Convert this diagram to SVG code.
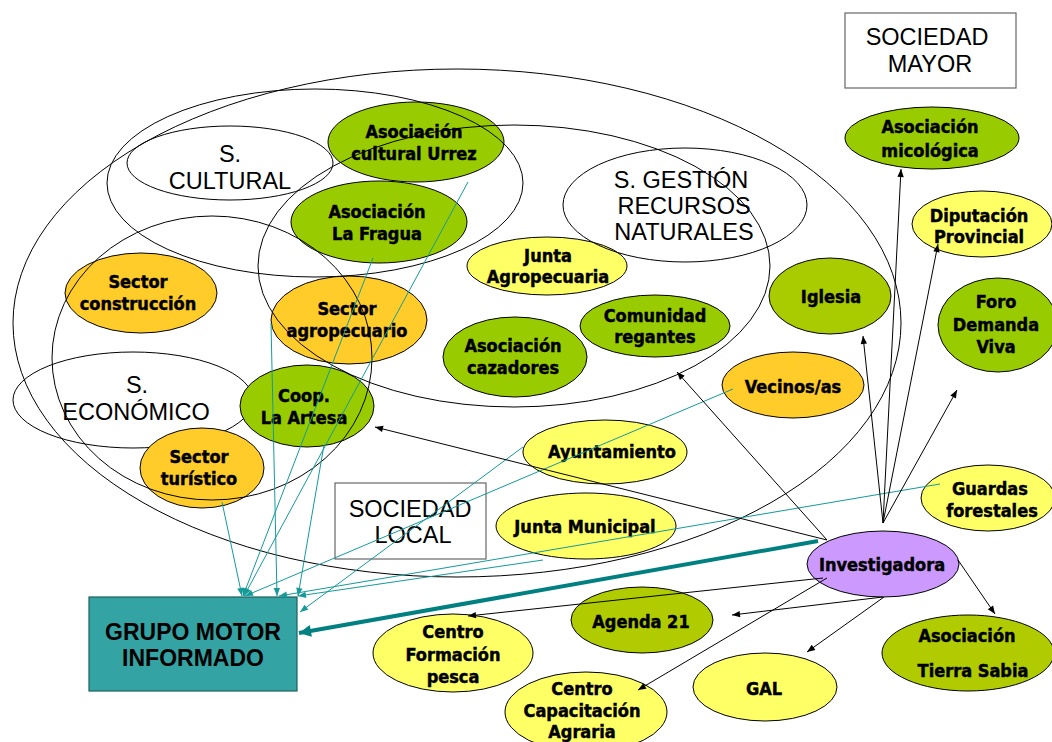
<svg xmlns="http://www.w3.org/2000/svg" width="1052" height="742" viewBox="0 0 1052 742">
<style>
.n{font-family:"DejaVu Sans Condensed","DejaVu Sans",sans-serif;font-stretch:condensed;font-weight:bold;font-size:18px;text-anchor:middle;fill:#000;stroke:#000;stroke-width:0.45}
.h{font-family:"Liberation Sans",Arial,sans-serif;font-size:23.5px;text-anchor:middle;fill:#000}
.gm{font-family:"Liberation Sans",Arial,sans-serif;font-size:23px;font-weight:bold;text-anchor:middle;fill:#000}
.dom{fill:none;stroke:#000;stroke-width:1}
.nd{stroke:#000;stroke-width:1}
.g1{fill:#99cc00}.g2{fill:#b0cc00}.or{fill:#ffcc29}.ye{fill:#ffff66}.pu{fill:#cc99ff}
.box{fill:#fff;stroke:#666;stroke-width:1.2}
.tl{stroke:#159a9a;stroke-width:1;fill:none;marker-end:url(#at)}
.bl{stroke:#000;stroke-width:1;fill:none;marker-end:url(#ab)}
</style>
<defs>
<marker id="ab" viewBox="0 0 10 10" refX="10" refY="5" markerWidth="10" markerHeight="8" markerUnits="userSpaceOnUse" orient="auto"><path d="M0,1 L10,5 L0,9 z" fill="#000"/></marker>
<marker id="at" viewBox="0 0 10 10" refX="10" refY="5" markerWidth="10" markerHeight="8" markerUnits="userSpaceOnUse" orient="auto"><path d="M0,1 L10,5 L0,9 z" fill="#159a9a"/></marker>
<marker id="atb" viewBox="0 0 10 10" refX="10" refY="5" markerWidth="16" markerHeight="12" markerUnits="userSpaceOnUse" orient="auto"><path d="M0,0 L10,5 L0,10 z" fill="#008080"/></marker>
</defs>
<rect width="1052" height="742" fill="#fff"/>

<g id="s-economico">
<ellipse class="dom" cx="133" cy="400" rx="120" ry="48"/>
<text class="h" x="137" y="393">S.</text>
<text class="h" x="136" y="420">ECONÓMICO</text>
</g>

<g id="asoc-urrez"><ellipse class="nd g1" cx="416" cy="142" rx="88" ry="40"/><text class="n" x="414" y="138">Asociación</text><text class="n" x="414" y="160">cultural Urrez</text></g>
<g id="asoc-fragua"><ellipse class="nd g1" cx="379" cy="222" rx="88" ry="41"/><text class="n" x="377" y="218">Asociación</text><text class="n" x="377" y="240">La Fragua</text></g>
<g id="sector-construccion"><ellipse class="nd or" cx="141" cy="293" rx="76" ry="40"/><text class="n" x="138" y="288">Sector</text><text class="n" x="138" y="310">construcción</text></g>
<g id="sector-agropecuario"><ellipse class="nd or" cx="349" cy="320" rx="78" ry="44"/><text class="n" x="347" y="315">Sector</text><text class="n" x="347" y="337">agropecuario</text></g>
<g id="junta-agropecuaria"><ellipse class="nd ye" cx="547" cy="266" rx="80" ry="29"/><text class="n" x="548" y="262">Junta</text><text class="n" x="548" y="283">Agropecuaria</text></g>
<g id="comunidad-regantes"><ellipse class="nd g1" cx="655" cy="326" rx="75" ry="31"/><text class="n" x="655" y="322">Comunidad</text><text class="n" x="655" y="343">regantes</text></g>
<g id="asoc-cazadores"><ellipse class="nd g1" cx="515" cy="357" rx="72" ry="40"/><text class="n" x="513" y="352">Asociación</text><text class="n" x="513" y="374">cazadores</text></g>
<g id="coop-artesa"><ellipse class="nd g1" cx="307" cy="406" rx="67" ry="41"/><text class="n" x="304" y="402">Coop.</text><text class="n" x="304" y="424">La Artesa</text></g>
<g id="sector-turistico"><ellipse class="nd or" cx="202" cy="468" rx="62" ry="40"/><text class="n" x="199" y="463">Sector</text><text class="n" x="199" y="485">turístico</text></g>
<g id="iglesia"><ellipse class="nd" fill="#a8cc00" cx="830" cy="296" rx="61" ry="38"/><text class="n" x="831" y="303">Iglesia</text></g>
<g id="foro"><ellipse class="nd g1" cx="998" cy="325" rx="60" ry="47"/><text class="n" x="996" y="308">Foro</text><text class="n" x="996" y="331">Demanda</text><text class="n" x="996" y="353">Viva</text></g>
<g id="vecinos"><ellipse class="nd or" cx="793" cy="385" rx="71" ry="33"/><text class="n" x="793" y="393">Vecinos/as</text></g>
<g id="guardas"><ellipse class="nd ye" cx="988" cy="498" rx="67" ry="33"/><text class="n" x="990" y="495">Guardas</text><text class="n" x="992" y="517">forestales</text></g>
<g id="asoc-micologica"><ellipse class="nd g1" cx="932" cy="138" rx="87" ry="31"/><text class="n" x="930" y="133">Asociación</text><text class="n" x="930" y="157">micológica</text></g>
<g id="diputacion"><ellipse class="nd ye" cx="982" cy="224" rx="70" ry="33"/><text class="n" x="979" y="222">Diputación</text><text class="n" x="979" y="243">Provincial</text></g>
<g id="ayuntamiento"><ellipse class="nd ye" cx="605" cy="452" rx="82" ry="32"/><text class="n" x="612" y="458">Ayuntamiento</text></g>
<g id="junta-municipal"><ellipse class="nd ye" cx="586" cy="526" rx="90" ry="33"/><text class="n" x="585" y="533">Junta Municipal</text></g>
<g id="investigadora"><ellipse class="nd pu" cx="883" cy="564" rx="76" ry="33"/><text class="n" x="882" y="571">Investigadora</text></g>
<g id="agenda21"><ellipse class="nd g2" cx="642" cy="620" rx="71" ry="33"/><text class="n" x="641" y="628">Agenda 21</text></g>
<g id="centro-pesca"><ellipse class="nd ye" cx="453" cy="653" rx="80" ry="39"/><text class="n" x="453" y="638">Centro</text><text class="n" x="453" y="661">Formación</text><text class="n" x="453" y="683">pesca</text></g>
<g id="centro-agraria"><ellipse class="nd ye" cx="586" cy="712" rx="81" ry="40"/><text class="n" x="582" y="695">Centro</text><text class="n" x="582" y="717">Capacitación</text><text class="n" x="582" y="738">Agraria</text></g>
<g id="gal"><ellipse class="nd ye" cx="765" cy="687" rx="72" ry="34"/><text class="n" x="764" y="695">GAL</text></g>
<g id="tierra-sabia"><ellipse class="nd g2" cx="968" cy="653" rx="86" ry="38"/><text class="n" x="967" y="642">Asociación</text><text class="n" x="973" y="677">Tierra Sabia</text></g>

<g id="regions">
<ellipse class="dom" cx="457" cy="323" rx="444" ry="254"/>
<ellipse class="dom" cx="315" cy="183" rx="208" ry="94"/>
<ellipse class="dom" cx="514" cy="266" rx="256" ry="141"/>
<ellipse class="dom" cx="212" cy="358" rx="160" ry="142"/>
</g>
<g id="s-cultural">
<ellipse class="dom" cx="230" cy="163" rx="103" ry="37"/>
<text class="h" x="230" y="162">S.</text>
<text class="h" x="230" y="189">CULTURAL</text>
</g>
<g id="s-gestion">
<ellipse class="dom" cx="685" cy="205" rx="122" ry="57"/>
<text class="h" x="681" y="188">S. GESTIÓN</text>
<text class="h" x="684" y="214">RECURSOS</text>
<text class="h" x="684" y="240">NATURALES</text>
</g>
<g id="sociedad-mayor">
<rect class="box" x="845" y="13" width="171" height="75"/>
<text class="h" x="927" y="45">SOCIEDAD</text>
<text class="h" x="930" y="72">MAYOR</text>
</g>
<g id="sociedad-local">
<rect class="box" x="335" y="483" width="151" height="76"/>
<text class="h" x="410" y="517">SOCIEDAD</text>
<text class="h" x="413" y="543">LOCAL</text>
</g>
<g id="grupo-motor">
<rect x="89" y="597" width="208" height="94" fill="#33a3a3" stroke="#1d5f5f" stroke-width="1.2"/>
<text class="gm" x="193" y="640">GRUPO MOTOR</text>
<text class="gm" x="193" y="666">INFORMADO</text>
</g>

<g id="connectors">
<line class="tl" x1="222" y1="502" x2="242" y2="596"/>
<line class="tl" x1="271" y1="323" x2="277" y2="596"/>
<line class="tl" x1="373" y1="258" x2="243" y2="596"/>
<line class="tl" x1="468" y1="182" x2="244" y2="596"/>
<line class="tl" x1="324" y1="445" x2="298" y2="596"/>
<line class="tl" x1="733" y1="389" x2="245" y2="596"/>
<line class="tl" x1="523" y1="447" x2="300" y2="612"/>
<line class="tl" x1="543" y1="560" x2="298" y2="596"/>
<line class="tl" x1="940" y1="484" x2="279" y2="596"/>
<line x1="818" y1="541" x2="299" y2="633" stroke="#008080" stroke-width="4" marker-end="url(#atb)"/>
<line class="bl" x1="883" y1="523" x2="901" y2="169"/>
<line class="bl" x1="883" y1="523" x2="938" y2="244"/>
<line class="bl" x1="883" y1="523" x2="863" y2="336"/>
<line class="bl" x1="883" y1="523" x2="957" y2="390"/>
<line class="bl" x1="827" y1="540" x2="677" y2="372"/>
<line class="bl" x1="827" y1="540" x2="375" y2="427"/>
<line class="bl" x1="823" y1="578" x2="468" y2="616"/>
<line class="bl" x1="883" y1="597" x2="732" y2="615"/>
<line class="bl" x1="827" y1="578" x2="638" y2="690"/>
<line class="bl" x1="884" y1="597" x2="807" y2="652"/>
<line class="bl" x1="958" y1="560" x2="995" y2="614"/>
</g>
</svg>
